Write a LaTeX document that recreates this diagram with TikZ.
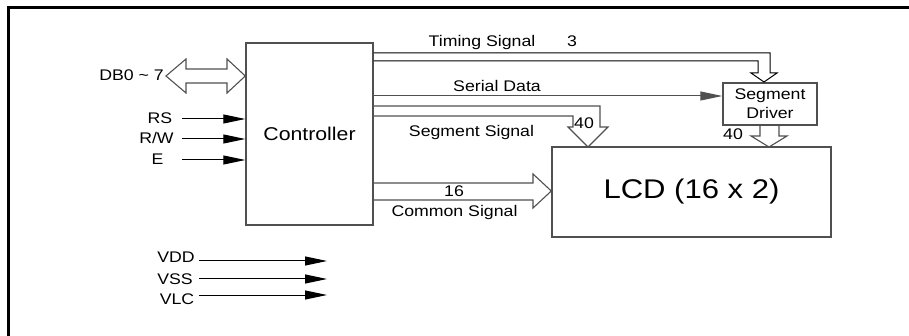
\documentclass[tikz,border=0pt]{standalone}
\usepackage{fontspec}
\setmainfont[FakeStretch=1.15]{Liberation Sans}
\usetikzlibrary{arrows.meta}
\definecolor{boxgray}{HTML}{505050}
\begin{document}
\begin{tikzpicture}[x=1pt,y=-1pt,
  lbl/.style={inner sep=0pt, anchor=base, font=\fontsize{15.4}{18}\selectfont},
  blk/.style={draw=boxgray, line width=1.4pt, inner sep=0pt},
  sig/.style={draw=black, line width=1pt, -{Triangle[length=22pt,width=9pt]}},
  bus/.style={draw=boxgray, line width=1.1pt, line join=miter},
]
\useasboundingbox (0,0) rectangle (909,336);
% frame
\draw[line width=2.5pt] (8.5,336) -- (8.5,7.5) -- (909,7.5);

% blocks
\node[blk, minimum width=127pt, minimum height=182pt, font=\fontsize{18.5}{22}\selectfont] (ctrl) at (309.5,134) {Controller};
\node[blk, minimum width=94pt, minimum height=42pt, align=center, font=\fontsize{15.4}{19}\selectfont] (drv) at (770,104) {Segment\\Driver};
\node[blk, minimum width=279pt, minimum height=90pt, font=\fontsize{27}{30}\selectfont] (lcd) at (691.5,192) {LCD (16 x 2)};

% DB0~7 double bus arrow
\draw[bus] (166,76) -- (186,59) -- (186,69) -- (227,69) -- (227,59) -- (ctrl.west |- 0,76) -- (227,93) -- (227,83) -- (186,83) -- (186,93) -- cycle;
\node[lbl, anchor=base east] (db) at (164,81) {DB0 \textasciitilde\ 7};

% control inputs
\node[lbl] (rs) at (160,124) {RS};
\node[lbl] (rw) at (156.5,144) {R/W};
\node[lbl] (e) at (157.5,165) {E};
\coordinate (rs0) at (182,119);
\coordinate (rw0) at (182,139);
\coordinate (e0) at (182,160);
\draw[sig] (rs0) -- (rs0 -| ctrl.west);
\draw[sig] (rw0) -- (rw0 -| ctrl.west);
\draw[sig] (e0) -- (e0 -| ctrl.west);

% timing signal bus
\draw[line width=1pt, line join=miter] (ctrl.east |- 0,53) -- (770,53) -- (770,73) -- (777,73) -- (764,82) -- (751,73) -- (758,73) -- (758,61) -- (ctrl.east |- 0,61);
\node[lbl] (ts) at (482,47) {Timing Signal};
\node[lbl] (ts3) at (572,47) {3};

% serial data
\draw[sig, draw=boxgray] (ctrl.east |- 0,96) -- (drv.west |- 0,96);
\node[lbl] (sd) at (497,92) {Serial Data};

% segment signal bus
\draw[bus] (ctrl.east |- 0,106) -- (600,106) -- (600,127) -- (608,127) -- (588,147) -- (568,127) -- (573,127) -- (573,116) -- (ctrl.east |- 0,116);
\node[lbl] (ss) at (471.5,137) {Segment Signal};
\node[lbl] (ss40) at (584,129) {40};

% segment driver output bus
\draw[bus] (760,125) -- (760,136) -- (751,136) -- (769,147) -- (787,136) -- (779,136) -- (779,125);
\node[lbl] (dr40) at (733,140) {40};

% common signal bus
\draw[bus] (ctrl.east |- 0,183) -- (533,183) -- (533,174) -- (lcd.west |- 0,191) -- (533,208) -- (533,200) -- (ctrl.east |- 0,200);
\node[lbl] (c16) at (454,197) {16};
\node[lbl] (cs) at (454.5,217) {Common Signal};

% power
\node[lbl] (vdd) at (176,263) {VDD};
\node[lbl] (vss) at (175,284) {VSS};
\node[lbl] (vlc) at (177,305) {VLC};
\coordinate (vdd0) at (199,261);
\coordinate (vss0) at (199,279);
\coordinate (vlc0) at (199,295);
\coordinate (vdd1) at (327,261);
\coordinate (vss1) at (327,279);
\coordinate (vlc1) at (327,295);
\draw[sig] (vdd0) -- (vdd1);
\draw[sig] (vss0) -- (vss1);
\draw[sig] (vlc0) -- (vlc1);
\end{tikzpicture}
\end{document}
